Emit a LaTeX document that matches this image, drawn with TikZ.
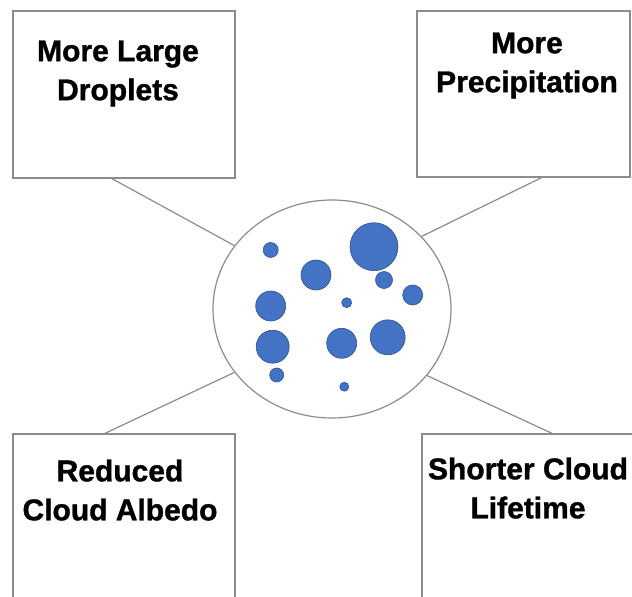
\documentclass[tikz,border=0pt]{standalone}
\usepackage{fontspec}
\setmainfont{Liberation Sans}[BoldFeatures={FakeBold=1.2}]
\usetikzlibrary{positioning,shapes.geometric}
\definecolor{edgegray}{HTML}{8C8C8C}
\definecolor{dropblue}{HTML}{4472C4}
\definecolor{dropedge}{HTML}{2F528F}

\begin{document}
\begin{tikzpicture}[x=1pt,y=-1pt,
    box/.style={draw=edgegray,line width=1.3pt,fill=white,inner sep=0pt},
    lbl/.style={align=center,inner sep=0pt,font=\fontsize{30}{39}\selectfont\bfseries},
    link/.style={draw=edgegray,line width=1.2pt},
    drop/.style={fill=dropblue,draw=dropedge,line width=0.6pt}]
    \useasboundingbox (0,0) rectangle (632,597);
    \clip (0,0) rectangle (632,597);

    % the four effect boxes
    \node[box,minimum width=222pt,minimum height=167pt] (drops) at (124,94.5) {};
    \node[box,minimum width=213pt,minimum height=166pt] (precip) at (523.5,94) {};
    \node[box,minimum width=222pt,minimum height=180pt] (albedo) at (124,524) {};
    \node[box,minimum width=218pt,minimum height=180pt] (lifetime) at (531,524) {};

    \node[lbl,below=30pt of drops.north,xshift=-6pt] (dropstxt) {More Large\\Droplets};
    \node[lbl,below=22pt of precip.north,xshift=3.5pt] (preciptxt) {More\\Precipitation};
    \node[lbl,below=26pt of albedo.north,xshift=-4pt] (albedotxt) {Reduced\\Cloud Albedo};
    \node[lbl,below=24pt of lifetime.north,xshift=-3pt] (lifetimetxt) {Shorter Cloud\\Lifetime};

    % the cloud in the middle
    \node[ellipse,draw=edgegray,line width=1.2pt,fill=white,minimum width=238pt,minimum height=218pt,inner sep=0pt] (cloud) at (332,309) {};

    % droplets: x/y/radius
    \foreach \x/\y/\r in {270.7/250/7.5, 374/246.7/24, 316/275/15, 384/280/8.5,
      412.7/295/10, 270.7/306/15, 346.7/302.7/5, 272.7/346.7/16.5,
      341.7/343.3/15, 387.7/337.3/17.5, 276.7/375/7, 344.3/386.7/4.5}
      \draw[drop] (\x,\y) circle (\r pt);

    % links from the boxes to the cloud
    \draw[link] ([xshift=-12pt]drops.south) -- (cloud.147.8);
    \draw[link] ([xshift=18pt]precip.south) -- (cloud.39.5);
    \draw[link] ([xshift=-19pt]albedo.north) -- (cloud.213);
    \draw[link] ([xshift=21pt]lifetime.north) -- (cloud.325.5);
\end{tikzpicture}
\end{document}
